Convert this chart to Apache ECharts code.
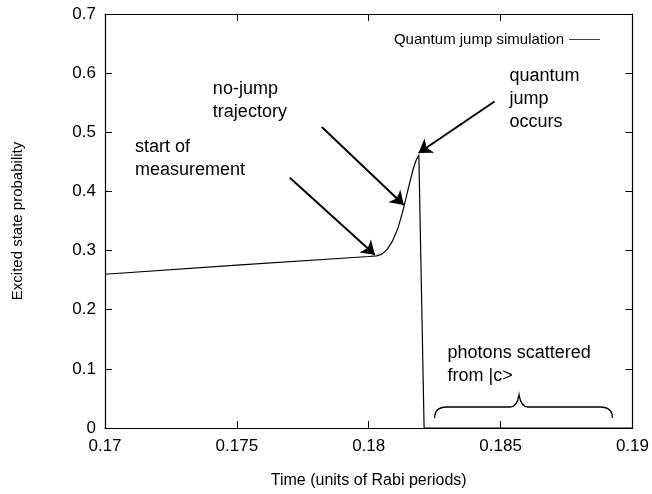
<!DOCTYPE html>
<html>
<head>
<meta charset="utf-8">
<script src="https://cdn.jsdelivr.net/npm/echarts@6/dist/echarts.min.js"></script>
<style>
  html, body { margin: 0; padding: 0; background: #fff; }
  #chart { width: 652px; height: 494px; }
</style>
</head>
<body>
<div id="chart"></div>
<script>
// Simulated excited-state probability versus time (Rabi periods)
const timeValues = [0.1700, 0.1750, 0.1800, 0.1803, 0.1805, 0.1807, 0.1809, 0.1811, 0.1812,
                    0.1813, 0.1814, 0.1815, 0.1816, 0.1817, 0.1818, 0.1819, 0.1821, 0.1900];
const probValues = [0.260, 0.2755, 0.290, 0.291, 0.294, 0.302, 0.316, 0.337, 0.352,
                    0.368, 0.386, 0.405, 0.423, 0.440, 0.453, 0.462, 0.000, 0.000];

const xTickLabels = ['0.17', '0.175', '0.18', '0.185', '0.19'];
const yTickLabels = ['0', '0.1', '0.2', '0.3', '0.4', '0.5', '0.6', '0.7'];

// Annotation arrows: tail and head in data coordinates
const arrowTails = [[0.17701, 0.423], [0.17822, 0.509], [0.18477, 0.552]];
const arrowHeads = [[0.18023, 0.293], [0.18133, 0.377], [0.18189, 0.465]];

// Annotation text blocks, anchored at their top-left corner in data coordinates
const noteTexts = ['start of\nmeasurement', 'no-jump\ntrajectory', 'quantum\njump\noccurs', 'photons scattered\nfrom |c>'];
const noteAnchors = [[0.17114, 0.494], [0.17409, 0.592], [0.18534, 0.614], [0.18299, 0.1455]];

// Curly brace under the "photons scattered" note
const braceSpan = [0.1825, 0.18924];
const braceTip = 0.1857;
const braceLevels = [0.017, 0.0355, 0.056]; // ends, straight part, tip

const FONT = '"Liberation Sans", Arial, Helvetica, sans-serif';

function pickLabel(list, value) {
  const hit = list.find(s => Math.abs(parseFloat(s) - value) < 1e-7);
  return hit === undefined ? '' : hit;
}

const chart = echarts.init(document.getElementById('chart'), null, { renderer: 'canvas' });

const tickStyle = { show: true, inside: true, length: 7, lineStyle: { color: '#000', width: 1 } };
const lineStyle = { show: true, onZero: false, lineStyle: { color: '#000', width: 1.2 } };

const xMin = parseFloat(xTickLabels[0]);
const xMax = parseFloat(xTickLabels[xTickLabels.length - 1]);
const xStep = parseFloat(xTickLabels[1]) - xMin;
const yMax = parseFloat(yTickLabels[yTickLabels.length - 1]);
const yStep = parseFloat(yTickLabels[1]);

chart.setOption({
  animation: false,
  backgroundColor: '#fff',
  textStyle: { fontFamily: FONT, color: '#000' },
  grid: { left: 105, right: 19, top: 14, bottom: 66, containLabel: false },
  legend: {
    data: [{ name: 'Quantum jump simulation', icon: 'rect' }],
    right: 47,
    top: 27,
    align: 'right',
    itemWidth: 31,
    itemHeight: 1,
    itemGap: 6,
    textStyle: { fontFamily: FONT, fontSize: 15, color: '#000' }
  },
  xAxis: [
    {
      type: 'value', min: xMin, max: xMax, interval: xStep,
      name: 'Time (units of Rabi periods)', nameLocation: 'middle', nameGap: 45,
      nameTextStyle: { fontFamily: FONT, fontSize: 16, color: '#000' },
      axisLine: lineStyle, axisTick: tickStyle, splitLine: { show: false },
      axisLabel: { fontFamily: FONT, fontSize: 17, color: '#000', margin: 10,
                   formatter: v => pickLabel(xTickLabels, v) }
    },
    {
      type: 'value', position: 'top', min: xMin, max: xMax, interval: xStep,
      axisLine: lineStyle, axisTick: tickStyle, splitLine: { show: false },
      axisLabel: { show: false }
    }
  ],
  yAxis: [
    {
      type: 'value', min: 0, max: yMax, interval: yStep,
      name: 'Excited state probability', nameLocation: 'middle', nameGap: 80,
      nameTextStyle: { fontFamily: FONT, fontSize: 15, color: '#000' },
      axisLine: lineStyle, axisTick: tickStyle, splitLine: { show: false },
      axisLabel: { fontFamily: FONT, fontSize: 17, color: '#000', margin: 9,
                   formatter: v => pickLabel(yTickLabels, v) }
    },
    {
      type: 'value', position: 'right', min: 0, max: yMax, interval: yStep,
      axisLine: lineStyle, axisTick: tickStyle, splitLine: { show: false },
      axisLabel: { show: false }
    }
  ],
  series: [
    {
      name: 'Quantum jump simulation',
      type: 'line',
      xAxisIndex: 0, yAxisIndex: 0,
      data: timeValues.map((t, i) => [t, probValues[i]]),
      symbol: 'none',
      lineStyle: { color: '#000', width: 1.2 },
      itemStyle: { color: '#444' },
      markLine: {
        silent: true,
        symbol: ['none', 'arrow'],
        symbolSize: 13,
        label: { show: false },
        lineStyle: { color: '#000', width: 2, type: 'solid' },
        data: arrowTails.map((tail, i) => [{ coord: tail }, { coord: arrowHeads[i] }])
      }
    },
    {
      name: 'brace',
      type: 'custom',
      xAxisIndex: 0, yAxisIndex: 0,
      silent: true,
      data: [[braceTip, braceLevels[2]]],
      renderItem: function (params, api) {
        const l = api.coord([braceSpan[0], braceLevels[0]]);
        const r = api.coord([braceSpan[1], braceLevels[0]]);
        const h = api.coord([braceTip, braceLevels[1]])[1];
        const tip = api.coord([braceTip, braceLevels[2]]);
        const cx = tip[0], ty = tip[1];
        const p = [
          'M', l[0], l[1],
          'Q', l[0], h, l[0] + 12, h,
          'L', cx - 9, h,
          'Q', cx - 2, h, cx, ty,
          'Q', cx + 2, h, cx + 9, h,
          'L', r[0] - 12, h,
          'Q', r[0], h, r[0], r[1]
        ].join(' ');
        return {
          type: 'path',
          shape: { pathData: p },
          style: { fill: null, stroke: '#000', lineWidth: 1.3 }
        };
      }
    }
  ]
});

// Place the annotation text blocks relative to the plot's data coordinates
chart.setOption({
  graphic: noteTexts.map((txt, i) => {
    const pt = chart.convertToPixel({ xAxisIndex: 0, yAxisIndex: 0 }, noteAnchors[i]);
    return {
      type: 'text',
      x: pt[0], y: pt[1],
      silent: true,
      style: {
        text: txt,
        fontFamily: FONT,
        fontSize: 18,
        lineHeight: 23,
        fill: '#000',
        align: 'left',
        verticalAlign: 'top'
      }
    };
  })
});
</script>
</body>
</html>
